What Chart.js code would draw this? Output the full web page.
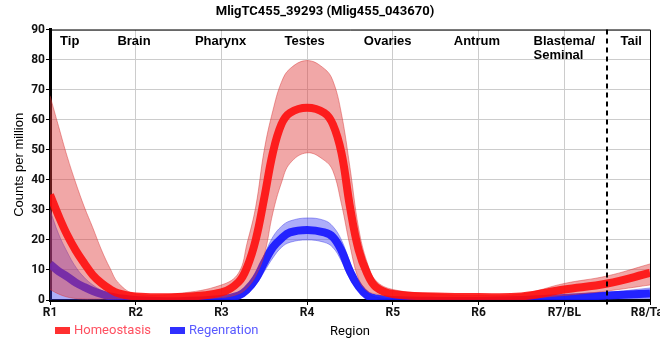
<!DOCTYPE html>
<html>
<head>
<meta charset="utf-8">
<script src="https://cdn.jsdelivr.net/npm/chart.js@4.4.1/dist/chart.umd.min.js"></script>
<style>
  html, body { margin: 0; padding: 0; background: #fff; }
</style>
</head>
<body>
<canvas id="myChart" width="660" height="360"></canvas>
<script>
// positions along the body (1 = R1 ... 8 = R8/Tail)
const xPos = [1, 1.1, 1.2, 1.3, 1.4, 1.5, 1.6, 1.7, 1.8, 2, 2.5, 3, 3.2, 3.3, 3.4, 3.5, 3.6, 3.7, 3.8, 4,
              4.2, 4.3, 4.4, 4.5, 4.6, 4.7, 4.8, 5, 5.5, 6, 6.5, 7, 7.5, 8];

// Homeostasis
const homeMid = [35, 28, 21.7, 16.5, 12.2, 8.3, 5.6, 3.6, 2.2, 1.2, 1.0, 2.5, 6, 11, 20, 34, 49, 58.5, 62.3, 64,
                 62.3, 58.5, 49, 31, 16.7, 8.9, 4.4, 2, 1.2, 1, 1.2, 3.5, 5.5, 9];
const homeHi  = [68, 57.8, 47.8, 39, 31, 24, 16.7, 10.6, 5.6, 2, 2.2, 5, 9, 19, 31, 50, 63, 72.5, 77, 79.7,
                 77, 73, 62, 44, 24, 12.5, 6.5, 3.5, 2, 1.5, 2, 5.5, 8, 12];
const homeLo  = [3.5, 2, 1, 0.5, 0.3, 0.3, 0.3, 0.3, 0.3, 0.3, 0.3, 0.8, 2, 4, 8, 15, 29, 39, 45.5, 49,
                 46.5, 43, 32, 18, 7, 3, 2, 1, 0.5, 0.5, 0.5, 1.5, 3, 5];

// Regenration
const regenMid = [12, 9.6, 7.8, 5.8, 4.3, 3, 2, 1.2, 0.6, 0, -0.4, 0.3, 1.5, 3.5, 7, 12.5, 17.5, 20.5, 22.5, 23.3,
                  22.5, 21, 16.5, 9.5, 4.5, 1.5, 0.5, 0, -0.3, -0.3, 0, 0.7, 1.5, 2.2];
const regenHi  = [30, 22, 16, 11, 7.5, 5, 3.2, 2, 1.2, 0.5, 0.2, 0.8, 2.5, 5, 9, 15, 21, 24.5, 26.3, 27.3,
                  26.5, 24.5, 20, 12.5, 6, 2.5, 1, 0.4, 0.2, 0.2, 0.5, 1.5, 2.5, 4];
const regenLo  = [-2, -1.5, -1.2, -1, -1, -1, -1, -0.9, -0.8, -0.8, -0.5, -0.3, 0.5, 2, 5, 9.5, 14, 17.5, 19.2, 20,
                  19.2, 17.5, 13, 7, 3, 0.5, 0, -0.5, -0.5, -0.5, -0.3, 0, 0.3, 0.5];

const tickNames = ["R1", "R2", "R3", "R4", "R5", "R6", "R7/BL", "R8/Tail"];
const regionNames = [["Tip"], ["Brain"], ["Pharynx"], ["Testes"], ["Ovaries"], ["Antrum"], ["Blastema/", "Seminal"], ["Tail"]];
const regionAt = [1.23, 1.98, 2.99, 3.97, 4.94, 5.98, 7.0, 7.78];
const cutAt = 7.5;

const pts = arr => arr.map((v, i) => ({x: xPos[i], y: v}));

// top labels, dashed separator, frame, legend
const extras = {
  id: "extras",
  afterDatasetsDraw(chart) {
    const ctx = chart.ctx;
    const a = chart.chartArea;
    const xs = chart.scales.x;
    ctx.save();
    // frame top / right
    ctx.strokeStyle = "#000";
    ctx.lineWidth = 1;
    ctx.beginPath();
    ctx.moveTo(a.left, a.top + 0.5);
    ctx.lineTo(a.right + 0.5, a.top + 0.5);
    ctx.lineTo(a.right + 0.5, a.bottom);
    ctx.stroke();
    // dashed line
    const dx = Math.round(xs.getPixelForValue(cutAt));
    ctx.lineWidth = 2;
    ctx.setLineDash([5, 4]);
    ctx.beginPath();
    ctx.moveTo(dx, a.top);
    ctx.lineTo(dx, a.bottom + 5);
    ctx.stroke();
    ctx.setLineDash([]);
    // region names
    ctx.fillStyle = "#000";
    ctx.font = "bold 13px 'Liberation Sans', Arial, sans-serif";
    ctx.textBaseline = "alphabetic";
    regionNames.forEach((lines, i) => {
      const px = xs.getPixelForValue(regionAt[i]);
      lines.forEach((t, j) => {
        ctx.textAlign = "center";
        let x = px;
        if (lines.length > 1) {
          const w = ctx.measureText(lines[0]).width;
          ctx.textAlign = "left";
          x = px - w / 2;
        }
        ctx.fillText(t, x, a.top + 15 + j * 14);
      });
    });
    // legend
    const items = [
      {text: "Homeostasis", box: "#ff3030", color: "#ff5060", x: 55},
      {text: "Regenration", box: "#3030ff", color: "#5a5aff", x: 170}
    ];
    ctx.font = "13px Roboto, sans-serif";
    ctx.textAlign = "left";
    ctx.textBaseline = "middle";
    items.forEach(it => {
      ctx.fillStyle = it.box;
      ctx.fillRect(it.x, 327, 15, 7);
      ctx.fillStyle = it.color;
      ctx.fillText(it.text, it.x + 19, 331);
    });
    ctx.restore();
  }
};

const ctx = document.getElementById("myChart").getContext("2d");
const myChart = new Chart(ctx, {
  type: "line",
  data: {
    datasets: [
      {
        label: "Homeostasis",
        data: pts(homeMid),
        borderColor: "rgba(255,10,10,0.88)",
        borderWidth: 8,
        order: 1
      },
      {
        label: "home hi",
        data: pts(homeHi),
        borderColor: "rgba(215,50,50,0.45)",
        borderWidth: 1,
        backgroundColor: "rgba(225,60,60,0.45)",
        fill: "+1",
        order: 3
      },
      {
        label: "home lo",
        data: pts(homeLo),
        borderColor: "rgba(215,50,50,0.45)",
        borderWidth: 1,
        order: 2
      },
      {
        label: "Regenration",
        data: pts(regenMid),
        borderColor: "rgba(20,20,255,0.9)",
        borderWidth: 8,
        order: 4
      },
      {
        label: "regen hi",
        data: pts(regenHi),
        borderColor: "rgba(60,60,230,0.45)",
        borderWidth: 1,
        backgroundColor: "rgba(60,60,240,0.42)",
        fill: "+1",
        order: 6
      },
      {
        label: "regen lo",
        data: pts(regenLo),
        borderColor: "rgba(60,60,230,0.45)",
        borderWidth: 1,
        order: 5
      }
    ]
  },
  options: {
    responsive: false,
    animation: false,
    devicePixelRatio: 1,
    layout: { padding: { left: 0, right: 10, top: 0, bottom: 0 } },
    elements: {
      point: { radius: 0 },
      line: { tension: 0.4, borderCapStyle: "butt", borderJoinStyle: "round", fill: false }
    },
    plugins: {
      legend: { display: false },
      tooltip: { enabled: false },
      title: {
        display: true,
        text: "MligTC455_39293 (Mlig455_043670)",
        color: "#000",
        font: { family: "Roboto", size: 13, weight: "bold" },
        padding: { top: 4, bottom: 10 }
      }
    },
    scales: {
      x: {
        type: "linear",
        min: 1,
        max: 8,
        afterFit(s) { s.paddingLeft = 0; s.paddingRight = 0; s.height = 60; },
        ticks: {
          stepSize: 1,
          autoSkip: false,
          maxRotation: 0,
          padding: 1,
          color: "#111",
          font: { family: "Roboto", size: 12, weight: "bold" },
          callback: v => tickNames[v - 1]
        },
        grid: { color: "#cccccc", tickColor: "#000", tickLength: 5 },
        border: { color: "#000", width: 3 },
        title: {
          display: true,
          text: "Region",
          color: "#000",
          font: { family: "Roboto", size: 13 },
          padding: { top: 4, bottom: 20 }
        }
      },
      y: {
        min: 0,
        max: 90,
        afterFit(s) { s.width = 50; },
        ticks: {
          stepSize: 10,
          padding: 1,
          color: "#111",
          font: { family: "Roboto", size: 12, weight: "bold" }
        },
        grid: { color: "#cccccc", tickColor: "#000", tickLength: 4 },
        border: { color: "#000", width: 3 },
        title: {
          display: true,
          text: "Counts per million",
          color: "#000",
          font: { family: "'Liberation Sans', Arial, sans-serif", size: 13 },
          padding: { top: 12, bottom: 0 }
        }
      }
    }
  },
  plugins: [extras]
});
</script>
</body>
</html>
